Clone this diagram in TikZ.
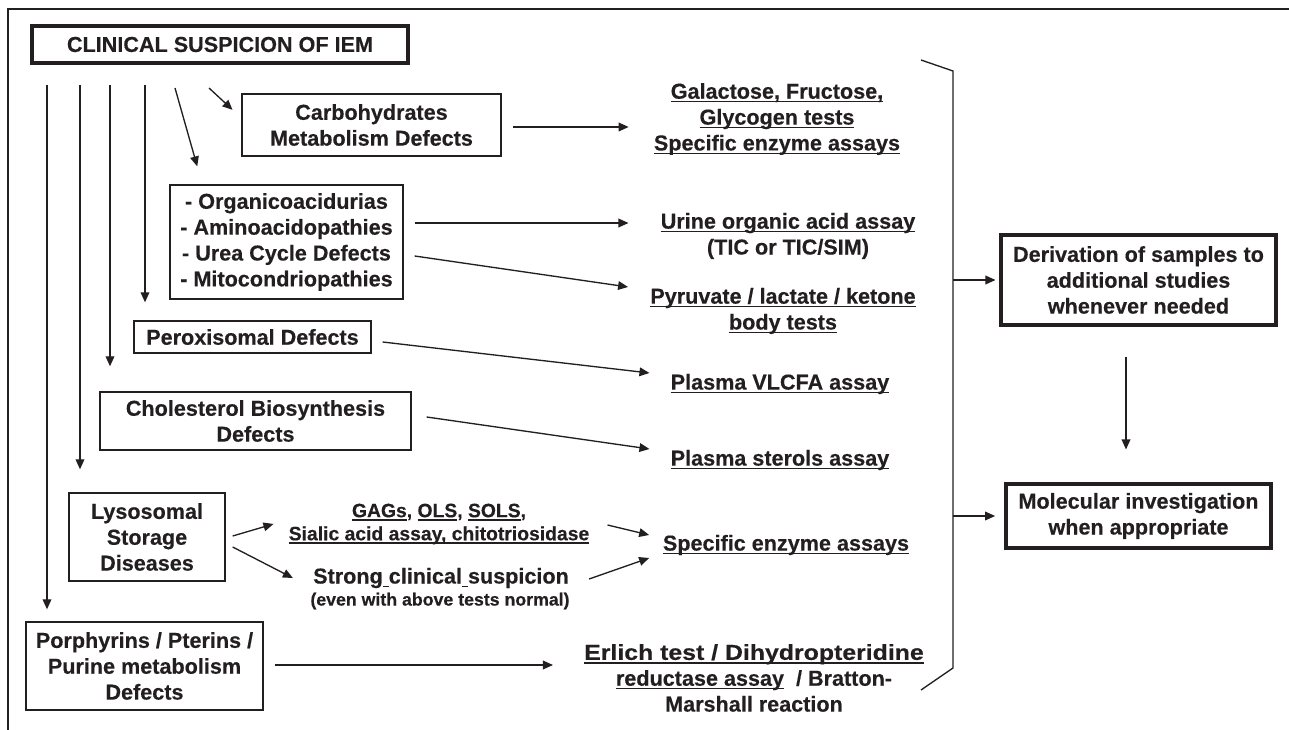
\documentclass[tikz,border=0pt]{standalone}
\usepackage{fontspec}
\setmainfont{Liberation Sans}[BoldFeatures={FakeBold=0.35}]
\usetikzlibrary{arrows.meta}
\definecolor{ink}{RGB}{35,31,32}
\newsavebox{\ulbox}
\newcommand{\uln}[1]{\sbox{\ulbox}{#1}\rlap{\rule[-2.8pt]{\wd\ulbox}{1.2pt}}\usebox{\ulbox}}

\begin{document}
\begin{tikzpicture}[x=0.75pt, y=-0.75pt,
    every node/.style={font=\bfseries\fontsize{16.2}{19.4}\selectfont, text=ink, align=center, inner sep=0pt},
    box/.style={draw=ink, line width=1pt},
    bigbox/.style={draw=ink, line width=2.3pt},
    arr/.style={draw=ink, line width=1pt, -{Triangle[length=7.5pt,width=6.5pt]}},
    small/.style={font=\bfseries\fontsize{14.5}{17.3}\selectfont},
    tiny/.style={font=\bfseries\fontsize{13.3}{16}\selectfont}]

  \useasboundingbox (0,0) rectangle (1289,730);

  % ---------- Frame ----------
  \draw[ink, line width=2pt] (8,730) -- (8,9) -- (1289,9);

  % ---------- Disease groups ----------
  \node[bigbox, minimum width=282pt, minimum height=27.75pt] (clin) at (220,44.5) {CLINICAL SUSPICION OF IEM};
  \node[box, minimum width=194.25pt, minimum height=46.5pt] (carb) at (371.5,125) {Carbohydrates\\Metabolism Defects};
  \node[box, minimum width=174.75pt, minimum height=85.5pt] (orga) at (286.5,242)
    {- Organicoacidurias\\- Aminoacidopathies\\- Urea Cycle Defects\\- Mitocondriopathies};
  \node[box, minimum width=177.75pt, minimum height=24pt] (perox) at (252.5,337) {Peroxisomal Defects};
  \node[box, minimum width=233.25pt, minimum height=43.5pt] (chol) at (255.5,421) {Cholesterol Biosynthesis\\Defects};
  \node[box, minimum width=117pt, minimum height=66pt] (lyso) at (147,537) {Lysosomal\\Storage\\Diseases};
  \node[box, minimum width=177.75pt, minimum height=66pt] (porph) at (144.5,666) {Porphyrins / Pterins /\\Purine metabolism\\Defects};

  % ---------- Tests ----------
  \node (galac) at (777,119) {\uln{Galactose, Fructose,}\\\uln{Glycogen tests}\\\uln{Specific enzyme assays}};
  \node (urine) at (788,236) {\uln{Urine organic acid assay}\\(TIC or TIC/SIM)};
  \node (pyruv) at (783,311) {\uln{Pyruvate / lactate / ketone}\\\uln{body tests}};
  \node (vlcfa) at (780,384) {\uln{Plasma VLCFA assay}};
  \node (sterol) at (780,460) {\uln{Plasma sterols assay}};
  \node[small] (gags) at (439,524) {\uln{GAGs}, \uln{OLS}, \uln{SOLS},\\\uln{Sialic acid assay, chitotriosidase}};
  \node (strong) at (441,578) {Strong\uln{\ }clinical\uln{\ }suspicion};
  \node[tiny] (note) at (440,601) {(even with above tests normal)};
  \node (spec) at (786,545) {\uln{Specific enzyme assays}};
  \node (erlich) at (754,678)
    {\scalebox{1.15}[1]{\uln{Erlich test / Dihydropteridine}}\\\uln{reductase assay}\ \ / Bratton-\\Marshall reaction};

  % ---------- Follow-up ----------
  \node[bigbox, minimum width=206.25pt, minimum height=67.5pt] (deriv) at (1138.5,280)
    {Derivation of samples to\\additional studies\\whenever needed};
  \node[bigbox, minimum width=198.75pt, minimum height=48pt] (molec) at (1138.5,516) {Molecular investigation\\when appropriate};

  % ---------- Arrows from the suspicion ----------
  \foreach \i/\x/\t/\g in {1/47/porph/9pt, 2/80/lyso/17.25pt, 3/110/chol/18.75pt, 4/145/perox/13.5pt}{
    \coordinate (v\i) at (\x,85);
    \draw[arr, shorten >=\g] (v\i) -- (v\i |- \t.north);
  }
  \coordinate (d1) at (175,88);
  \coordinate (d2) at (209,88);
  \draw[arr, shorten >=14pt] (d1) -- ([shift={(33,0)}]orga.north west);
  \draw[arr, shorten >=9pt] (d2) -- ([shift={(0,-7)}]carb.west);

  % ---------- Groups to tests ----------
  \draw[arr] ([shift={(11,2)}]carb.east) -- ([shift={(-25,8)}]galac.west);
  \draw[arr] ([shift={(11,-19)}]orga.east) -- ([shift={(-32,-13)}]urine.west);
  \draw[arr] ([shift={(11,14)}]orga.east) -- ([shift={(-22,-24)}]pyruv.west);
  \draw[arr] ([shift={(11,5)}]perox.east) -- ([shift={(-21,-11)}]vlcfa.west);
  \draw[arr] ([shift={(15,-4)}]chol.east) -- ([shift={(-21,-11)}]sterol.west);
  \draw[arr] ([shift={(7,-1)}]lyso.east) -- ([shift={(-15,0)}]gags.west);
  \draw[arr] ([shift={(7,10)}]lyso.east) -- ([shift={(-20,0)}]strong.west);
  \draw[arr] ([shift={(18,1)}]gags.east) -- ([shift={(-13.5,-10)}]spec.west);
  \draw[arr] ([shift={(20,1)}]strong.east) -- ([shift={(-13.5,13)}]spec.west);
  \draw[arr] ([shift={(11,-1)}]porph.east) -- ([shift={(-31,-13)}]erlich.west);

  % ---------- Brace and follow-up arrows ----------
  \coordinate (btop) at (953,71);
  \coordinate (bbot) at (953,668);
  \draw[ink, line width=1pt] (921,60) -- (btop) -- (bbot) -- (921,690);
  \draw[arr, shorten >=3pt] (btop |- deriv.west) -- (deriv.west);
  \draw[arr, shorten >=7pt] (btop |- molec.west) -- (molec.west);
  \draw[arr] ([shift={(-12.5,30)}]deriv.south) -- ([shift={(-12.5,-33)}]molec.north);
\end{tikzpicture}
\end{document}
